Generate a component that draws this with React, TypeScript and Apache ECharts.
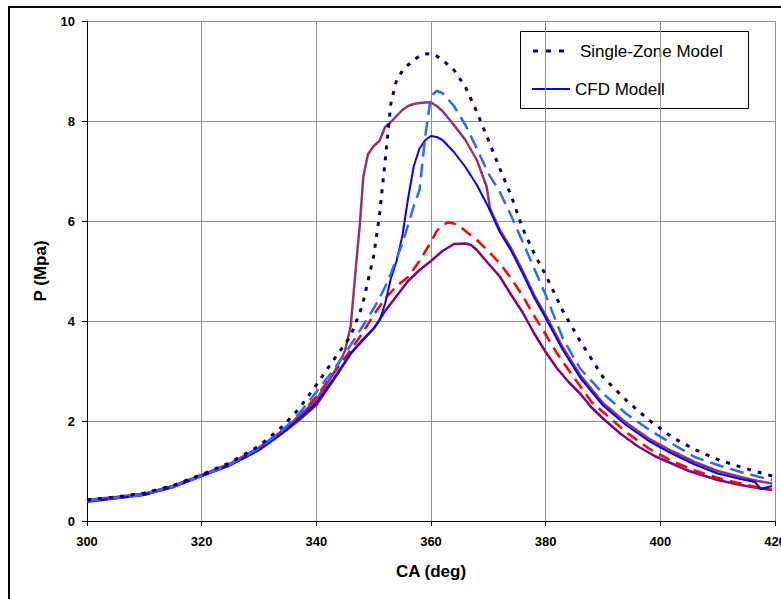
import React, { useEffect, useRef } from "react";
import * as echarts from "echarts";

// Crank angle (deg) / pressure (MPa) pairs
const singleZone: [number, number][] = [
  [300, 0.42], [305, 0.48], [310, 0.56], [315, 0.71], [320, 0.93], [325, 1.17], [330, 1.5], [334, 1.88],
  [337, 2.25], [340, 2.72], [343, 3.22], [346, 3.7], [348, 4.3], [350, 5.3], [351, 6.1], [352, 7.2],
  [353, 8.35], [354, 8.82], [355, 9.0], [356, 9.12], [357, 9.22], [358, 9.3], [359, 9.34], [360, 9.35],
  [361, 9.3], [362, 9.22], [364, 9.02], [366, 8.68], [368, 8.18], [370, 7.62], [372, 7.05], [374, 6.5],
  [376, 5.85], [378, 5.35], [380, 4.92], [383, 4.2], [386, 3.6], [390, 2.88], [394, 2.42], [398, 2.02],
  [402, 1.68], [406, 1.43], [410, 1.23], [414, 1.08], [417, 0.98], [419.5, 0.9],
];

const lightBlueDashed: [number, number][] = [
  [300, 0.4], [305, 0.46], [310, 0.53], [315, 0.69], [320, 0.9], [325, 1.13], [330, 1.45], [334, 1.8],
  [337, 2.15], [340, 2.58], [343, 3.02], [346, 3.52], [348, 3.88], [350, 4.25], [351, 4.45], [352, 4.68],
  [353, 4.95], [354, 5.25], [355, 5.55], [356, 5.92], [357, 6.3], [358, 6.62], [359, 7.7], [360, 8.5],
  [361, 8.6], [362, 8.56], [364, 8.3], [366, 7.92], [368, 7.45], [370, 6.95], [372, 6.58], [374, 6.1],
  [376, 5.58], [378, 5.05], [380, 4.52], [383, 3.65], [386, 3.05], [390, 2.55], [394, 2.15], [398, 1.83],
  [402, 1.55], [406, 1.28], [410, 1.12], [414, 0.98], [417, 0.89], [419.5, 0.82],
];

const cfdModel: [number, number][] = [
  [300, 0.38], [305, 0.45], [310, 0.52], [315, 0.68], [320, 0.9], [325, 1.12], [330, 1.42], [334, 1.75],
  [337, 2.05], [340, 2.36], [343, 2.85], [346, 3.35], [348, 3.62], [350, 3.85], [351, 4.0], [352, 4.35],
  [353, 4.85], [354, 5.2], [355, 5.7], [356, 6.45], [357, 7.1], [358, 7.45], [359, 7.62], [360, 7.7],
  [361, 7.68], [362, 7.62], [364, 7.38], [366, 7.08], [368, 6.72], [370, 6.28], [372, 5.78], [374, 5.4],
  [376, 4.95], [378, 4.47], [380, 4.06], [383, 3.42], [386, 2.87], [390, 2.31], [394, 1.92], [398, 1.6],
  [402, 1.35], [406, 1.13], [410, 0.95], [414, 0.84], [416.5, 0.78], [417.5, 0.64], [419.5, 0.7],
];

const mauveSolid: [number, number][] = [
  [300, 0.42], [305, 0.48], [310, 0.55], [315, 0.7], [320, 0.92], [325, 1.15], [330, 1.47], [334, 1.8],
  [337, 2.1], [340, 2.42], [343, 2.95], [345, 3.4], [346, 3.9], [347, 5.2], [347.6, 5.95], [348.2, 6.89],
  [349, 7.33], [350, 7.5], [351, 7.6], [352, 7.88], [353, 7.98], [354, 8.1], [355, 8.22], [356, 8.3],
  [357, 8.34], [358, 8.36], [359, 8.37], [360, 8.37], [361, 8.3], [362, 8.2], [364, 7.92], [366, 7.62],
  [368, 7.22], [369.7, 6.69], [370.3, 6.25], [371.5, 5.95], [372, 5.82], [374, 5.45], [376, 5.0],
  [378, 4.52], [380, 4.12], [383, 3.47], [386, 2.92], [390, 2.36], [394, 1.97], [398, 1.65], [402, 1.4],
  [406, 1.18], [410, 1.0], [414, 0.88], [417, 0.8], [419.5, 0.75],
];

const redDashed: [number, number][] = [
  [300, 0.42], [305, 0.47], [310, 0.54], [315, 0.7], [320, 0.92], [325, 1.15], [330, 1.46], [334, 1.8],
  [337, 2.1], [340, 2.49], [343, 2.95], [346, 3.42], [348, 3.75], [350, 4.12], [352, 4.45], [354, 4.7],
  [356, 4.88], [358, 5.2], [360, 5.58], [361, 5.8], [362, 5.92], [363, 5.97], [364, 5.95], [365, 5.89],
  [366, 5.8], [368, 5.62], [370, 5.4], [372, 5.15], [374, 4.85], [376, 4.5], [378, 4.1], [380, 3.73],
  [382, 3.35], [384, 3.02], [386, 2.7], [388, 2.38], [390, 2.18], [394, 1.78], [398, 1.45], [402, 1.2],
  [406, 1.01], [410, 0.86], [414, 0.75], [417, 0.67], [419.5, 0.62],
];

const purpleSolid: [number, number][] = [
  [300, 0.4], [305, 0.46], [310, 0.53], [315, 0.68], [320, 0.9], [325, 1.12], [330, 1.42], [334, 1.75],
  [337, 2.02], [340, 2.32], [343, 2.82], [346, 3.35], [348, 3.6], [350, 3.85], [351, 4.02], [352, 4.2],
  [354, 4.5], [356, 4.8], [358, 5.02], [360, 5.2], [362, 5.4], [364, 5.54], [366, 5.55], [367, 5.52],
  [368, 5.42], [370, 5.15], [372, 4.89], [374, 4.52], [376, 4.17], [378, 3.75], [380, 3.38], [382, 3.05],
  [384, 2.78], [386, 2.55], [388, 2.27], [390, 2.05], [393, 1.75], [396, 1.5], [399, 1.3], [402, 1.15],
  [405, 1.0], [410, 0.82], [414, 0.72], [417, 0.66], [419.5, 0.62],
];

const legendNames = ["Single-Zone Model", "CFD Modell"];

const FONT = "Liberation Sans, Arial, sans-serif";

export default function App() {
  const ref = useRef<HTMLDivElement>(null);

  useEffect(() => {
    document.body.style.margin = "0";
    if (!ref.current) return;
    const chart = echarts.init(ref.current, undefined, { renderer: "svg" });

    const line = (name: string, data: [number, number][], color: string, width: number, type: any, z: number) => ({
      name,
      type: "line",
      data,
      showSymbol: false,
      symbol: "none",
      smooth: false,
      z,
      lineStyle: { color, width, type, cap: "butt" },
      itemStyle: { color },
    });

    chart.setOption({
      animation: false,
      backgroundColor: "#ffffff",
      textStyle: { fontFamily: FONT },
      grid: { left: 87, right: 6, top: 21, bottom: 78, containLabel: false, outerBoundsMode: "none" },
      xAxis: {
        type: "value",
        min: 300,
        max: 420,
        interval: 20,
        name: "CA (deg)",
        nameLocation: "middle",
        nameGap: 42,
        nameTextStyle: { fontFamily: FONT, fontWeight: "bold", fontSize: 17, color: "#000" },
        axisLine: { show: true, onZero: false, lineStyle: { color: "#000", width: 1 } },
        axisTick: { show: true, inside: false, length: 5, lineStyle: { color: "#000" } },
        axisLabel: { fontFamily: FONT, fontWeight: "bold", fontSize: 13, color: "#000", margin: 14, hideOverlap: false },
        splitLine: { show: true, lineStyle: { color: "#909090", width: 1 } },
      },
      yAxis: {
        type: "value",
        min: 0,
        max: 10,
        interval: 2,
        name: "P (Mpa)",
        nameLocation: "middle",
        nameGap: 38,
        nameRotate: 90,
        nameTextStyle: { fontFamily: FONT, fontWeight: "bold", fontSize: 17, color: "#000" },
        axisLine: { show: true, onZero: false, lineStyle: { color: "#000", width: 1 } },
        axisTick: { show: true, inside: false, length: 5, lineStyle: { color: "#000" } },
        axisLabel: { fontFamily: FONT, fontWeight: "bold", fontSize: 13, color: "#000", margin: 12 },
        splitLine: { show: true, lineStyle: { color: "#909090", width: 1 } },
      },
      series: [
        line("Purple", purpleSolid, "#800080", 2.5, "solid", 2),
        line("Red dashed", redDashed, "#ff0000", 2.5, [12, 7], 3),
        line("Mauve", mauveSolid, "#993366", 2.5, "solid", 4),
        line(legendNames[1], cfdModel, "#0000ff", 2, "solid", 5),
        line("Light blue dashed", lightBlueDashed, "#3366ff", 2.5, [14, 7], 6),
        line(legendNames[0], singleZone, "#000080", 3, [4, 7], 7),
      ],
      graphic: [
        {
          type: "rect",
          z: 100,
          shape: { x: 9, y: 7, width: 900, height: 800 },
          style: { fill: "none", stroke: "#000", lineWidth: 2 },
          silent: true,
        },
        {
          type: "group",
          z: 110,
          children: [
            {
              type: "rect",
              shape: { x: 520.5, y: 31.5, width: 228, height: 77 },
              style: { fill: "#ffffff", stroke: "#000", lineWidth: 1 },
            },
            {
              type: "line",
              shape: { x1: 533, y1: 51, x2: 571, y2: 51 },
              style: { stroke: "#000080", lineWidth: 3, lineDash: [5, 8] },
            },
            {
              type: "text",
              x: 580,
              y: 51,
              style: { text: legendNames[0], font: `17px ${FONT}`, fill: "#000", verticalAlign: "middle", align: "left" },
            },
            {
              type: "line",
              shape: { x1: 532, y1: 89, x2: 570, y2: 89 },
              style: { stroke: "#0000ff", lineWidth: 2 },
            },
            {
              type: "text",
              x: 575,
              y: 89,
              style: { text: legendNames[1], font: `17px ${FONT}`, fill: "#000", verticalAlign: "middle", align: "left" },
            },
          ],
        },
      ],
    });

    return () => chart.dispose();
  }, []);

  return <div ref={ref} style={{ width: 781, height: 599 }} />;
}
